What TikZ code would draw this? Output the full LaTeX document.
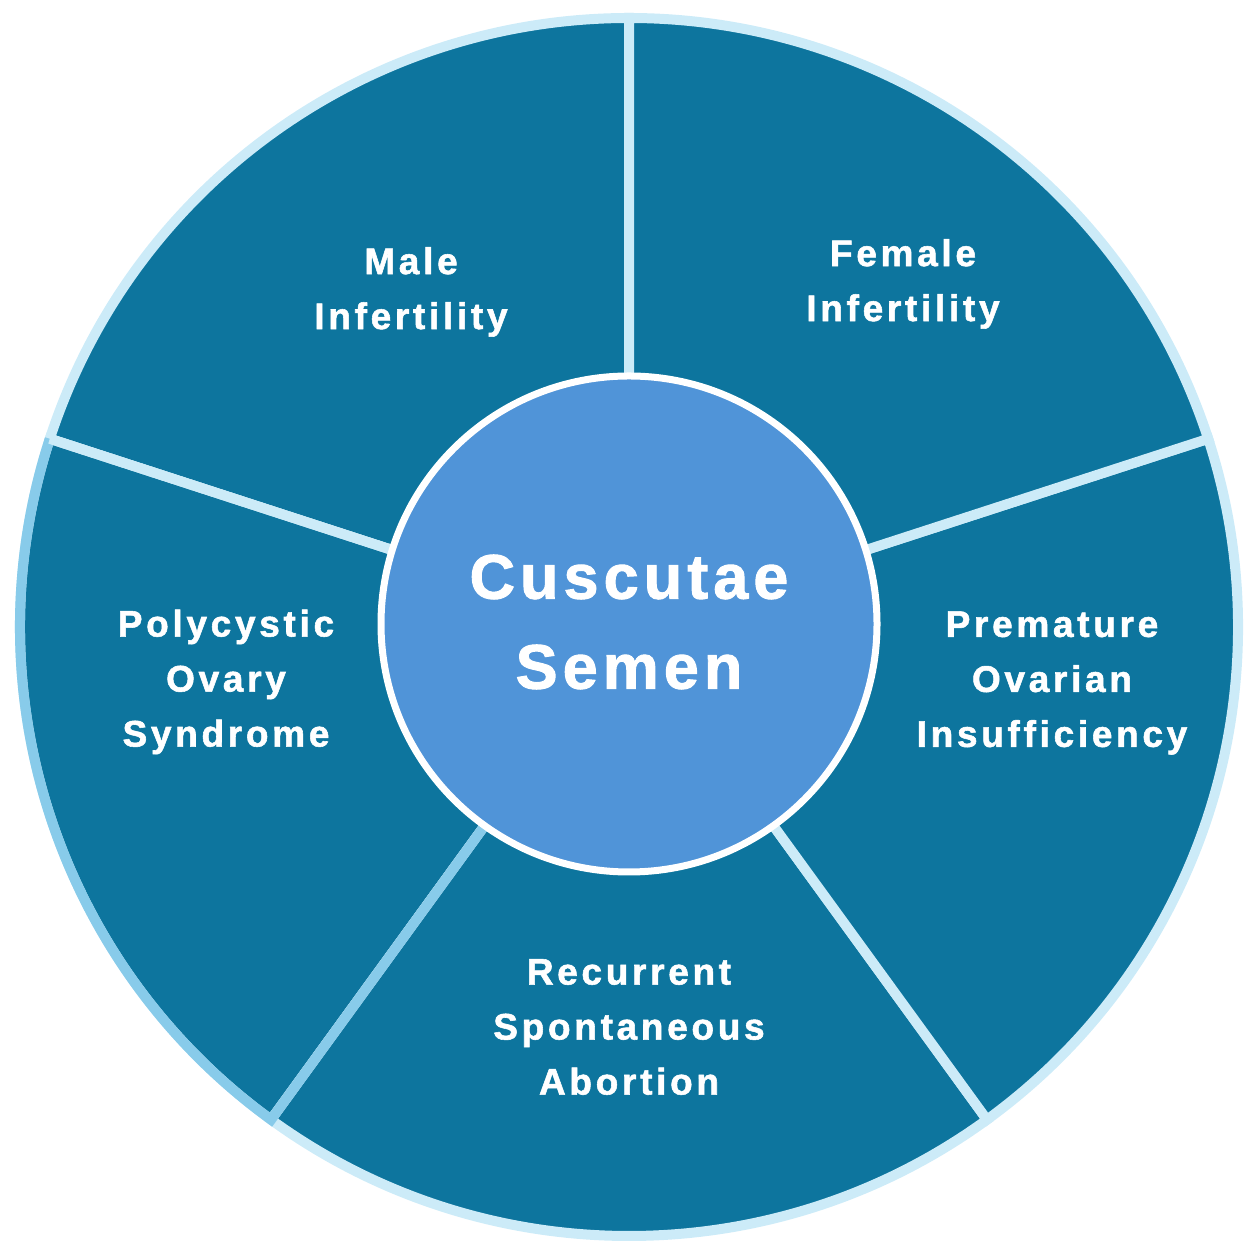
\documentclass[tikz,border=0pt]{standalone}
\usepackage{fontspec}
\setmainfont{Liberation Sans}
\newfontfamily\labfont{Liberation Sans Bold}[LetterSpace=10,FakeBold=1.5]
\newfontfamily\hubfont{Liberation Sans Bold}[LetterSpace=8,FakeBold=1.5]
\definecolor{wedge}{HTML}{0D759E}
\definecolor{hub}{HTML}{5094D8}
\definecolor{lite}{HTML}{CCEBF8}
\definecolor{darklite}{HTML}{88CBEA}
\tikzset{
  sector/.style={fill=wedge, draw=lite, line width=5pt, line join=miter},
  lab/.style={text=white, align=center, font=\labfont\fontsize{18.5}{27.5}\selectfont},
  hublab/.style={text=white, align=center, font=\hubfont\fontsize{31.5}{45}\selectfont},
}
\begin{document}
\begin{tikzpicture}[x=0.5pt,y=0.5pt]
\useasboundingbox (0,0) rectangle (1252,1252);
\coordinate (c) at (629,625);
\def\R{609}
% sectors
\foreach \a in {90,162,234,306,18}{
  \pgfmathsetmacro{\b}{\a+72}
  \path[sector] (c) -- ++(\a:\R) arc[start angle=\a, end angle=\b, radius=\R] -- cycle;
}
% darker border of the left sector
\draw[darklite, line width=5pt] (c) ++(162:\R) arc[start angle=162, end angle=234, radius=\R] coordinate (pl) -- (c);
\draw[lite, line width=5pt] (c) -- ++(162:\R) coordinate (ul);
% hub
\node[circle, fill=hub, draw=white, line width=3.5pt, minimum size=248pt, inner sep=0pt] (hub) at (629,628) {};
\node[hublab] (ht) at (629,630) {Cuscutae\\Semen};
% labels
\node[lab] (m) at (411,960) {Male\\Infertility};
\node[lab] (f) at (903,968) {Female\\Infertility};
\node[lab] (p) at (226,570) {Polycystic\\Ovary\\Syndrome};
\node[lab] (poi) at (1052,569) {Premature\\Ovarian\\Insufficiency};
\node[lab] (r) at (629,225) {Recurrent\\Spontaneous\\Abortion};
\end{tikzpicture}
\end{document}
